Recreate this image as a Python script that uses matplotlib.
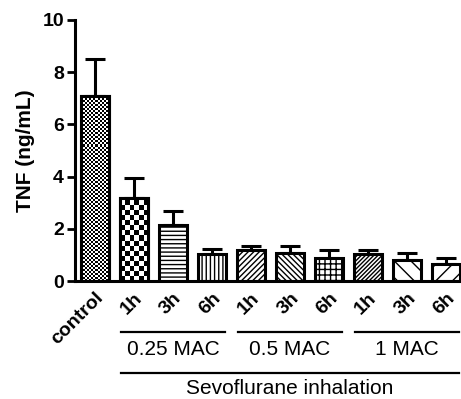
import numpy as np
import matplotlib.pyplot as plt
from matplotlib.transforms import blended_transform_factory

plt.rcParams['font.family'] = ['Liberation Sans', 'DejaVu Sans']
plt.rcParams['hatch.linewidth'] = 1.0

# data
labels = ['control', '1h', '3h', '6h', '1h', '3h', '6h', '1h', '3h', '6h']
means = [7.1, 3.18, 2.13, 1.04, 1.19, 1.06, 0.89, 1.04, 0.82, 0.66]
errs = [1.42, 0.76, 0.54, 0.19, 0.17, 0.30, 0.28, 0.15, 0.26, 0.23]
groups = ['0.25 MAC', '0.5 MAC', '1 MAC']
group_idx = [(1, 3), (4, 6), (7, 9)]
hatches = [None, None, '----', '||||', '//////', '\\\\\\\\\\\\', '+++', '////////', '\\\\', '//']

fig = plt.figure(figsize=(4.61, 3.99), dpi=100)
ax = fig.add_axes([0.1627, 0.2957, 1.0 - 0.1627, 0.6543])

x = np.arange(len(labels))
w = 0.72

ax.errorbar(x, means, yerr=[np.zeros(len(errs)), errs], fmt='none',
            ecolor='black', elinewidth=2.2, capsize=7.5, capthick=2.2, zorder=1)
bars = ax.bar(x, means, width=w, color='white', edgecolor='black',
              linewidth=2.2, zorder=2)
for b, h in zip(bars, hatches):
    if h:
        b.set_hatch(h)


# checkerboard fills for the first two bars
def checker(bar, cell_px):
    bx, bh = bar.get_x(), bar.get_height()
    cx = cell_px / 39.0
    cy = cell_px / 26.1
    nx = max(1, int(round(w / cx)))
    ny = max(1, int(round(bh / cy)))
    arr = (np.add.outer(np.arange(ny), np.arange(nx)) % 2).astype(float)
    im = ax.imshow(arr, cmap='gray', extent=(bx, bx + w, 0, ny * cy),
                   aspect='auto', interpolation='nearest', zorder=2.5,
                   origin='lower')
    im.set_clip_path(bar)
    ax.bar(bar.get_x() + w / 2, bh, width=w, color='none', edgecolor='black',
           linewidth=2.2, zorder=3)


checker(bars[0], 2.0)
checker(bars[1], 5.0)

ax.set_xlim(-0.51, 9.38)
ax.set_ylim(0, 10)
ax.set_yticks([0, 2, 4, 6, 8, 10])
ax.set_xticks(x)
ax.set_xticklabels(labels, rotation=45, ha='right', va='top',
                   rotation_mode='anchor', fontsize=14, fontweight='bold')
ax.tick_params(axis='x', length=0, pad=6)
ax.tick_params(axis='y', length=6, width=2, labelsize=14, pad=2)
for lab in ax.get_yticklabels():
    lab.set_fontweight('bold')
ax.set_ylabel('TNF (ng/mL)', fontsize=15, fontweight='bold', labelpad=5)

for s in ['top', 'right']:
    ax.spines[s].set_visible(False)
for s in ['left', 'bottom']:
    ax.spines[s].set_linewidth(2.2)

tr = blended_transform_factory(ax.transData, ax.transAxes)
for name, (i0, i1) in zip(groups, group_idx):
    ax.plot([i0 - 0.33, i1 + 0.33], [-0.195, -0.195], color='black', lw=1.6,
            transform=tr, clip_on=False)
    ax.text((i0 + i1) / 2, -0.262, name, transform=tr, ha='center', va='center',
            fontsize=15)
ax.plot([1 - 0.33, 9 + 0.33], [-0.352, -0.352], color='black', lw=1.6,
        transform=tr, clip_on=False)
ax.text(5, -0.41, 'Sevoflurane inhalation', transform=tr, ha='center',
        va='center', fontsize=15)

fig.savefig('out.png', dpi=100)
